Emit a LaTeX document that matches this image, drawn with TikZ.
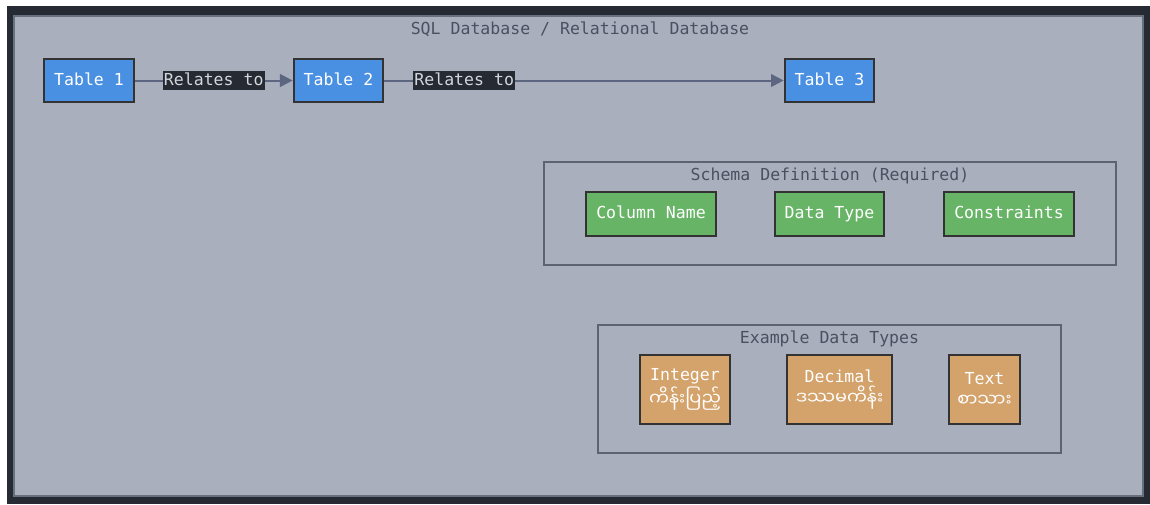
\documentclass[tikz,border=0pt]{standalone}
\usepackage{fontspec}
\setmonofont{DejaVu Sans Mono}
\newfontfamily\mmfont[Script=Myanmar,Scale=1.07]{Noto Sans Myanmar UI}
\usetikzlibrary{arrows.meta,positioning}
\definecolor{framedark}{HTML}{262A33}
\definecolor{canvasgrey}{HTML}{A9AFBC}
\definecolor{canvasedge}{HTML}{67707F}
\definecolor{clusteredge}{HTML}{5C6373}
\definecolor{titlegrey}{HTML}{4A5061}
\definecolor{tableblue}{HTML}{4A90E2}
\definecolor{fieldgreen}{HTML}{67B467}
\definecolor{typeorange}{HTML}{D4A26B}
\definecolor{boxedge}{HTML}{333333}
\definecolor{linkcol}{HTML}{5D6680}
\definecolor{labeltext}{HTML}{D2D6DD}
\newcommand{\diagfont}{\fontsize{12.4pt}{15pt}\selectfont\ttfamily}
\tikzset{
  box/.style={draw=boxedge,line width=1.5pt,text=white,inner xsep=7.5pt,
              inner ysep=2pt,font=\diagfont},
  tbl/.style={box,fill=tableblue,minimum height=32.25pt,text height=.95em,
              text depth=.22em},
  field/.style={box,fill=fieldgreen,minimum height=33pt,text height=.95em,
                text depth=.22em},
  dtype/.style={box,fill=typeorange,minimum height=51.75pt,align=center,
                inner xsep=6.5pt},
  cluster/.style={draw=clusteredge,line width=.8pt,fill=none},
  cltitle/.style={text=titlegrey,font=\diagfont,inner sep=1pt},
  relate/.style={-{Triangle[length=9.5pt,width=9.5pt]},draw=linkcol,line width=1.5pt},
  rellabel/.style={fill=framedark,text=labeltext,font=\diagfont,inner xsep=1pt,
                   inner ysep=1.5pt,text height=.95em,text depth=.22em},
}

\begin{document}
\begin{tikzpicture}[x=0.75pt,y=-0.75pt]
  \useasboundingbox (0,0) rectangle (1150,504);
  \fill[framedark] (7,6) rectangle (1150,504);
  \draw[fill=canvasgrey,draw=canvasedge,line width=.8pt] (14,16) rectangle (1143,496);
  \node[cltitle] (dbtitle) at (580,29) {SQL Database / Relational Database};
  % tables and their relations
  \node[tbl] (t1) at (89,80.5) {Table 1};
  \node[tbl] (t2) at (338.5,80.5) {Table 2};
  \node[tbl] (t3) at (829.5,80.5) {Table 3};
  \draw[relate] (t1) -- node[rellabel,pos=.5] (r1) {Relates to} (t2);
  \draw[relate] (t2) -- node[rellabel,pos=.2] (r2) {Relates to} (t3);
  % schema definition
  \node[cluster,minimum width=429pt,minimum height=77.25pt] (schema) at (830,213.5) {};
  \node[cltitle,below=3.5pt of schema.north] (schematitle) {Schema Definition (Required)};
  \node[field] (colname) at (651,214) {Column Name};
  \node[field] (datatype) at (829.5,214) {Data Type};
  \node[field] (constr) at (1009,214) {Constraints};
  % example data types
  \node[cluster,minimum width=347.25pt,minimum height=96pt] (examples) at (829.5,389) {};
  \node[cltitle,below=3.5pt of examples.north] (extitle) {Example Data Types};
  \node[dtype] (int) at (685,389.5) {Integer\\[1.5pt]{\mmfont ကိန်းပြည့်}};
  \node[dtype] (dec) at (839.5,389.5) {Decimal\\[1.5pt]{\mmfont ဒဿမကိန်း}};
  \node[dtype] (txt) at (984.5,389.5) {Text\\[1.5pt]{\mmfont စာသား}};
\end{tikzpicture}
\end{document}
